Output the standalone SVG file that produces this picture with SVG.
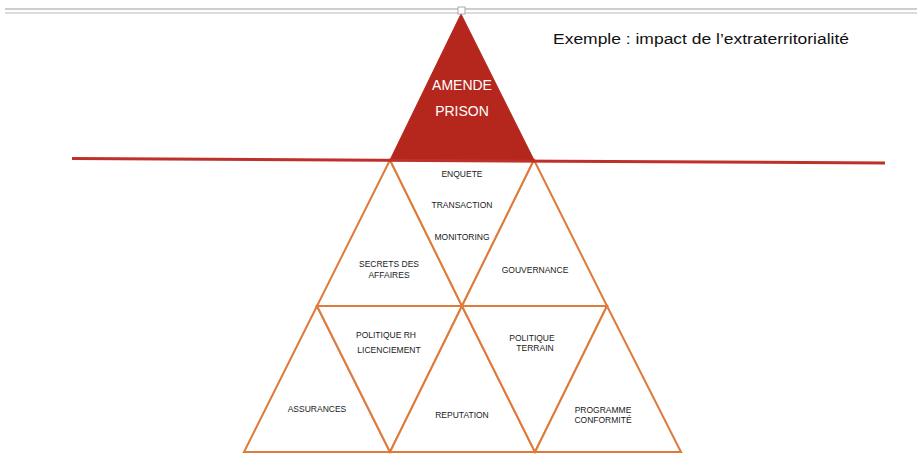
<svg xmlns="http://www.w3.org/2000/svg" width="917" height="454" viewBox="0 0 917 454">
<style>
.tri{fill:#fff;stroke:#DE7A3A;stroke-width:2;stroke-linejoin:miter}
.lbl{font-family:"Liberation Sans",Arial,sans-serif;font-size:8.5px;fill:#1a1a1a;text-anchor:middle}
.top{font-family:"Liberation Sans",Arial,sans-serif;font-size:14px;fill:#fff;text-anchor:middle}
.title{font-family:"Liberation Sans",Arial,sans-serif;font-size:15.5px;fill:#111}
</style>
<rect width="917" height="454" fill="#fff"/>
<g id="frame">
<line x1="5" y1="9" x2="917" y2="9" stroke="#BDBDBD" stroke-width="1.3"/>
<line x1="5" y1="13" x2="917" y2="13" stroke="#D0D0D0" stroke-width="1.3"/>
</g>
<g id="title"><text class="title" x="553" y="44" textLength="296" lengthAdjust="spacingAndGlyphs">Exemple : impact de l’extraterritorialité</text></g>

<g id="row2">
<g id="secrets"><polygon class="tri" points="390,160 317,306 462,306"/>
<text class="lbl" x="389" y="267">SECRETS DES</text><text class="lbl" x="389" y="278">AFFAIRES</text></g>
<g id="enquete"><polygon class="tri" points="390,160 534,160 462,306"/>
<text class="lbl" x="462" y="177">ENQUETE</text><text class="lbl" x="462" y="208">TRANSACTION</text><text class="lbl" x="462" y="240">MONITORING</text></g>
<g id="gouvernance"><polygon class="tri" points="534,160 462,306 607,306"/>
<text class="lbl" x="535" y="273">GOUVERNANCE</text></g>
</g>

<g id="row3">
<g id="assurances"><polygon class="tri" points="317,306 244,452 390,452"/>
<text class="lbl" x="317" y="412">ASSURANCES</text></g>
<g id="politiqueRH"><polygon class="tri" points="317,306 462,306 390,452"/>
<text class="lbl" x="386" y="338">POLITIQUE RH</text><text class="lbl" x="389" y="353">LICENCIEMENT</text></g>
<g id="reputation"><polygon class="tri" points="462,306 390,452 535,452"/>
<text class="lbl" x="462" y="418">REPUTATION</text></g>
<g id="politiqueTerrain"><polygon class="tri" points="462,306 607,306 535,452"/>
<text class="lbl" x="532" y="341">POLITIQUE</text><text class="lbl" x="535" y="351">TERRAIN</text></g>
<g id="programme"><polygon class="tri" points="607,306 535,452 681,452"/>
<text class="lbl" x="603" y="413">PROGRAMME</text><text class="lbl" x="603" y="423">CONFORMITÉ</text></g>
</g>

<g id="sanction"><polygon points="461,14 390,160 534,160" fill="#B5271C" stroke="#B5271C" stroke-width="1"/>
<text class="top" x="462" y="90">AMENDE</text><text class="top" x="462" y="116">PRISON</text></g>

<g id="connectors">
<line x1="72" y1="158.5" x2="885" y2="163" stroke="#C0302A" stroke-width="3"/>
</g>
<g id="handle"><rect x="458" y="7" width="7" height="7" fill="#fff" stroke="#AAA" stroke-width="1"/></g>
</svg>
